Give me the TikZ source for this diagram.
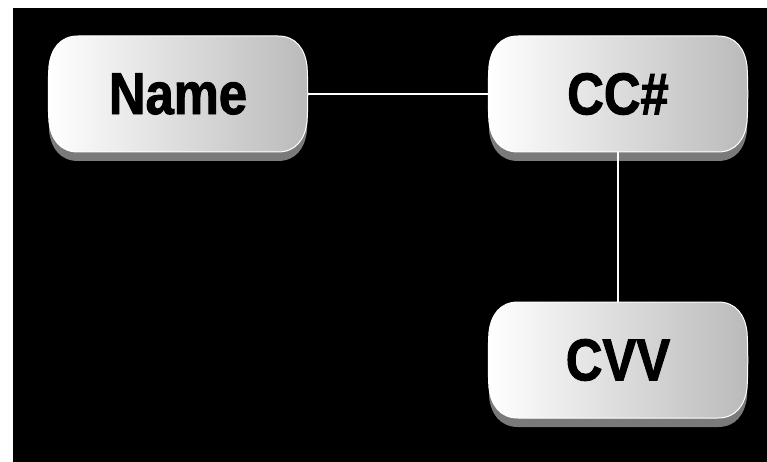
\documentclass[tikz,border=0pt]{standalone}
\usepackage{fontspec}
\newfontfamily\lblfont{Liberation Sans}[FakeStretch=0.86,FakeBold=1.6]
\tikzset{
  pillpath/.style={},
  pillfill/.style={draw=white, line width=1pt, left color=white, right color=black!27},
  pillshadow/.style={fill=black!52},
  pill/.style={minimum width=260pt, minimum height=116pt, inner sep=0pt,
    font=\lblfont\bfseries\fontsize{59}{60}\selectfont, text=black},
  link/.style={draw=white, line width=2pt},
  pics/pillbg/.style={code={
    \fill[pillshadow] (-100,-49) -- (100,-49) .. controls (118,-49) and (127,-36) .. (129,-19)
      -- (129,37) .. controls (127,54) and (118,67) .. (100,67) -- (-100,67)
      .. controls (-118,67) and (-127,54) .. (-129,37) -- (-129,-19)
      .. controls (-127,-36) and (-118,-49) .. (-100,-49) -- cycle;
    \path[pillfill] (-100,-58) -- (100,-58) .. controls (118,-58) and (127,-45) .. (129,-28)
      .. controls (130,-15) and (130,15) .. (129,28) .. controls (127,45) and (118,58) .. (100,58)
      -- (-100,58) .. controls (-118,58) and (-127,45) .. (-129,28)
      .. controls (-130,15) and (-130,-15) .. (-129,-28)
      .. controls (-127,-45) and (-118,-58) .. (-100,-58) -- cycle;
  }}
}
\begin{document}
\begin{tikzpicture}[x=1pt, y=-1pt]
\useasboundingbox (0,0) rectangle (767,462);
\fill[white] (0,0) rectangle (767,462);
\fill[black] (13,8) rectangle (767,462);
\pic at (178,94) {pillbg};
\pic at (618,94) {pillbg};
\pic at (618,360) {pillbg};
\node[pill] (name) at (178,94) {Name};
\node[pill] (cc) at (618,94) {CC\#};
\node[pill] (cvv) at (618,360) {CVV};
\draw[link] (name.east) -- (cc.west);
\draw[link] (cc.south) -- (cvv.north);
\end{tikzpicture}
\end{document}
